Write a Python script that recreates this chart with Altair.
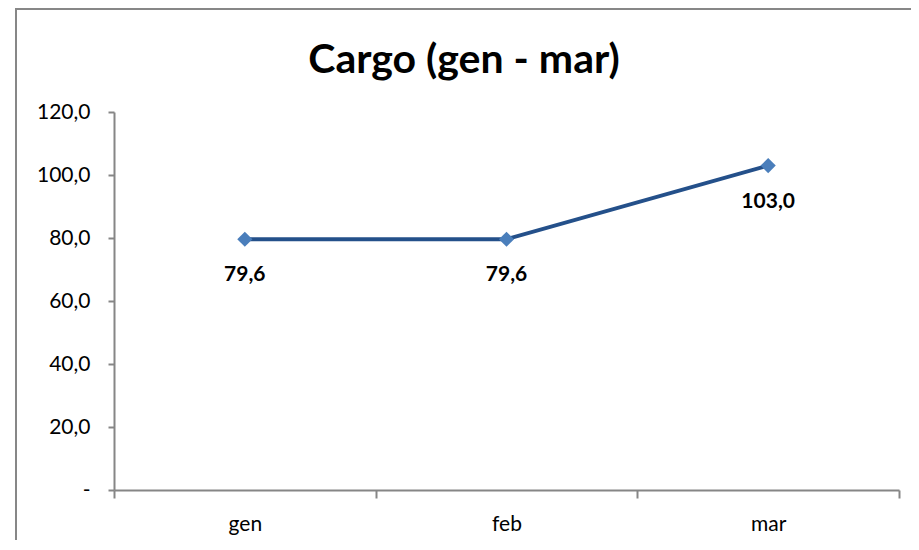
import altair as alt
import pandas as pd

months = ["gen", "feb", "mar"]
cargo = [79.6, 79.6, 103.0]
y_ticks = [0, 20, 40, 60, 80, 100, 120]
title_text = "Cargo (gen - mar)"

df = pd.DataFrame({"month": months, "cargo": cargo})
df["label"] = [f"{v:.1f}".replace(".", ",") for v in cargo]

FONT = "Lato"
AX = "#868686"

x = alt.X(
    "month:N",
    sort=months,
    scale=alt.Scale(type="band", paddingInner=0, paddingOuter=0),
    axis=alt.Axis(
        title=None, tickBand="extent", labelAngle=0, grid=False,
        domainColor=AX, domainWidth=2, tickColor=AX, tickWidth=2, tickSize=8,
        labelFont=FONT, labelFontSize=21, labelColor="#000",
        labelPadding=32, labelBaseline="alphabetic",
    ),
)
y = alt.Y(
    "cargo:Q",
    scale=alt.Scale(domain=[0, 120], nice=False, zero=True),
    axis=alt.Axis(
        title=None, values=y_ticks, grid=False,
        labelExpr="datum.value == 0 ? '-' : replace(format(datum.value, '.1f'), '.', ',')",
        domainColor=AX, domainWidth=2, tickColor=AX, tickWidth=2, tickSize=6,
        labelFont=FONT, labelFontSize=21, labelColor="#000", labelPadding=18,
    ),
)

base = alt.Chart(df)

border = alt.Chart(alt.Data(values=[{}])).mark_rect(
    fill=None, stroke="#878787", strokeWidth=2
).encode(
    x=alt.value(-98), x2=alt.value(820), y=alt.value(-103), y2=alt.value(600)
)

title = alt.Chart(alt.Data(values=[{"t": title_text}])).mark_text(
    font=FONT, fontSize=41, fontWeight="bold", color="#000",
    align="center", baseline="alphabetic",
).encode(x=alt.value(350), y=alt.value(-39), text="t:N")

line = base.mark_line(color="#24508A", strokeWidth=3.8).encode(x=x, y=y)
pts = base.mark_point(shape="diamond", filled=True, size=230, color="#4A7EBB", opacity=1).encode(x=x, y=y)
txt = base.mark_text(
    font=FONT, fontSize=21, fontWeight="bold", baseline="alphabetic", dy=42, color="#000"
).encode(x=x, y=y, text="label:N")

chart = alt.layer(border, title, line, pts, txt).properties(
    width=785,
    height=378,
    autosize=alt.AutoSizeParams(type="none"),
    padding={"left": 106, "top": 104, "right": 12, "bottom": 50},
).configure_view(stroke=None)

chart.save("out.html", embed_options={"renderer": "svg", "actions": False})
